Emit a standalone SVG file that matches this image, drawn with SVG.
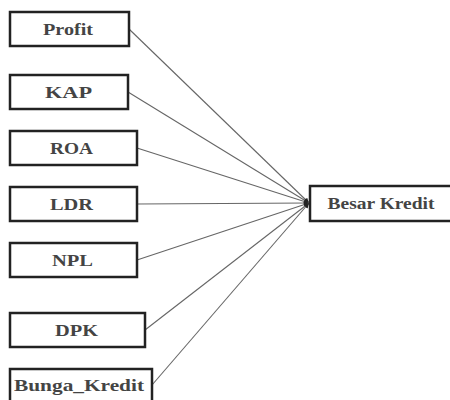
<svg xmlns="http://www.w3.org/2000/svg" width="450" height="400" viewBox="0 0 450 400">
<style>
.box{fill:#fff;stroke:#222;stroke-width:2.5}
.lbl{font-family:"Liberation Serif","Times New Roman",serif;font-size:16px;font-weight:bold;fill:#444;text-anchor:middle;dominant-baseline:central}
.con{stroke:#666;stroke-width:1.1;fill:none;marker-end:url(#ah)}
</style>
<defs>
<marker id="ah" viewBox="0 0 10 10" refX="10" refY="5" markerWidth="7" markerHeight="5" orient="auto" markerUnits="userSpaceOnUse">
<path d="M0,0 L10,5 L0,10 z" fill="#222"/>
</marker>
</defs>
<rect width="450" height="400" fill="#fff"/>
<g id="connectors">
<line class="con" x1="129" y1="29" x2="309" y2="203"/>
<line class="con" x1="128" y1="92" x2="309" y2="203"/>
<line class="con" x1="137" y1="148" x2="309" y2="203"/>
<line class="con" x1="137" y1="204" x2="309" y2="203"/>
<line class="con" x1="137" y1="260" x2="309" y2="203"/>
<line class="con" x1="145" y1="330" x2="309" y2="203"/>
<line class="con" x1="152" y1="385" x2="309" y2="203"/>
</g>
<g id="profit"><rect class="box" x="10" y="12" width="119" height="34"/><text class="lbl" x="68" y="29" textLength="50" lengthAdjust="spacingAndGlyphs">Profit</text></g>
<g id="kap"><rect class="box" x="10" y="75" width="118" height="34"/><text class="lbl" x="68.5" y="92" textLength="47" lengthAdjust="spacingAndGlyphs">KAP</text></g>
<g id="roa"><rect class="box" x="10" y="131" width="127" height="34"/><text class="lbl" x="71.5" y="148" textLength="43" lengthAdjust="spacingAndGlyphs">ROA</text></g>
<g id="ldr"><rect class="box" x="10" y="187" width="127" height="34"/><text class="lbl" x="71.5" y="204" textLength="43" lengthAdjust="spacingAndGlyphs">LDR</text></g>
<g id="npl"><rect class="box" x="10" y="243" width="127" height="34"/><text class="lbl" x="72.5" y="260" textLength="41" lengthAdjust="spacingAndGlyphs">NPL</text></g>
<g id="dpk"><rect class="box" x="10" y="313" width="135" height="34"/><text class="lbl" x="76.5" y="330" textLength="43" lengthAdjust="spacingAndGlyphs">DPK</text></g>
<g id="bunga"><rect class="box" x="10" y="369" width="142" height="40"/><text class="lbl" x="79" y="385" textLength="130" lengthAdjust="spacingAndGlyphs">Bunga_Kredit</text></g>
<g id="besar"><rect class="box" x="310" y="186" width="150" height="35"/><text class="lbl" x="381" y="203.5" textLength="107" lengthAdjust="spacingAndGlyphs">Besar Kredit</text></g>
</svg>
